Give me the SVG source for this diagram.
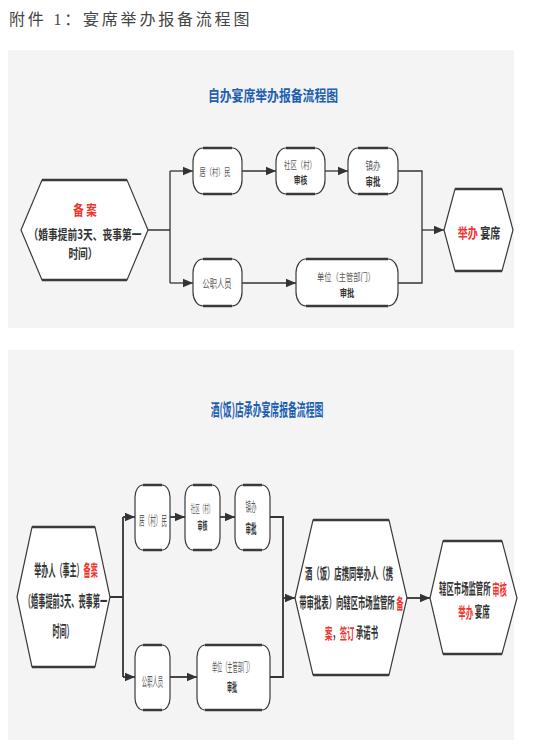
<svg xmlns="http://www.w3.org/2000/svg" width="535" height="753" viewBox="0 0 535 753">
<defs>
<style>
.panel{fill:#f4f4f4}
.shape{fill:#fff;stroke:#3a3a3a;stroke-width:1.2}
.edge{stroke:#3a3a3a;stroke-width:2.6;fill:none}
.conn{fill:none;stroke:#333;stroke-width:1.3}
.conn2{fill:none;stroke:#333;stroke-width:1.8}
.t{font-family:"Noto Sans CJK SC","Noto Sans",sans-serif;text-anchor:middle;dominant-baseline:central}
.n{fill:#5a5a5a;font-weight:400}
.b{fill:#333;font-weight:700}
.r{fill:#f0352f;font-weight:700}
.title{fill:#1d5fb0;font-weight:700}
</style>
<marker id="ah" markerUnits="userSpaceOnUse" markerWidth="10" markerHeight="10" viewBox="0 0 10 10" refX="10" refY="5" orient="auto">
<path d="M0,0.8 L10,5 L0,9.2 Z" fill="#333"/>
</marker>
</defs>
<rect width="535" height="753" fill="#fff"/>
<text x="9" y="25" font-family="'Liberation Serif','Noto Sans CJK SC',serif" font-size="16" fill="#444" letter-spacing="2.8">附件 1：宴席举办报备流程图</text>

<rect class="panel" x="8" y="50" width="506" height="278"/>
<rect class="panel" x="8" y="350" width="506" height="390"/>

<text class="t title" font-size="15" transform="translate(273 94) scale(0.79 1)">自办宴席举办报备流程图</text>
<text class="t title" font-size="17" transform="translate(267 408) scale(0.52 1)">酒(饭)店承办宴席报备流程图</text>

<g id="connectors">
<path class="conn" d="M148,230 H170 M170,171 V283"/>
<path class="conn" d="M170,171 H193" marker-end="url(#ah)"/>
<path class="conn" d="M170,283 H193" marker-end="url(#ah)"/>
<path class="conn" d="M242,171 H276" marker-end="url(#ah)"/>
<path class="conn" d="M325,171 H348" marker-end="url(#ah)"/>
<path class="conn" d="M242,283 H296" marker-end="url(#ah)"/>
<path class="conn" d="M398,171 H422 V283 H398"/>
<path class="conn" d="M422,230 H444" marker-end="url(#ah)"/>

<path class="conn2" d="M110,597 H123 M123,517 V677"/>
<path class="conn2" d="M123,517 H135" marker-end="url(#ah)"/>
<path class="conn2" d="M123,677 H135" marker-end="url(#ah)"/>
<path class="conn2" d="M170,517 H185" marker-end="url(#ah)"/>
<path class="conn2" d="M220,517 H235" marker-end="url(#ah)"/>
<path class="conn2" d="M170,677 H197" marker-end="url(#ah)"/>
<path class="conn2" d="M270,517 H283 V677 H270"/>
<path class="conn2" d="M283,598 H295" marker-end="url(#ah)"/>
<path class="conn2" d="M407,598 H430" marker-end="url(#ah)"/>
</g>

<!-- Panel 1 nodes -->
<g id="p1-start">
<polygon class="shape" points="21,230 42,180 127,180 148,230 127,280 42,280"/>
<path class="edge" d="M42,180 H127 M42,280 H127"/>
<text class="t r" font-size="14" transform="translate(85 209) scale(0.75 1)">备 案</text>
<text class="t b" font-size="13" transform="translate(85 233) scale(0.75 1)">（婚事提前3天、丧事第一</text>
<text class="t b" font-size="13" transform="translate(83 252) scale(0.75 1)">时间）</text>
</g>
<g id="p1-resident">
<rect class="shape" x="193" y="148" width="49" height="46" rx="10" ry="14"/>
<path class="edge" d="M203,148 H232 M203,194 H232"/>
<text class="t n" font-size="10" transform="translate(215 171) scale(0.62 1)">居（村）民</text>
</g>
<g id="p1-community">
<rect class="shape" x="276" y="148" width="49" height="46" rx="10" ry="14"/>
<path class="edge" d="M286,148 H315 M286,194 H315"/>
<text class="t n" font-size="10" transform="translate(300 164.5) scale(0.64 1)">社区（村）</text>
<text class="t b" font-size="10" transform="translate(300.5 179.5) scale(0.68 1)">审核</text>
</g>
<g id="p1-town">
<rect class="shape" x="348" y="148" width="50" height="46" rx="10" ry="14"/>
<path class="edge" d="M358,148 H388 M358,194 H388"/>
<text class="t n" font-size="11" transform="translate(373 165) scale(0.68 1)">镇办</text>
<text class="t b" font-size="11" transform="translate(373 181) scale(0.68 1)">审批</text>
</g>
<g id="p1-official">
<rect class="shape" x="193" y="259" width="49" height="47" rx="10" ry="14"/>
<path class="edge" d="M203,259 H232 M203,306 H232"/>
<text class="t n" font-size="11" transform="translate(217 283) scale(0.66 1)">公职人员</text>
</g>
<g id="p1-unit">
<rect class="shape" x="296" y="259" width="102" height="47" rx="10" ry="14"/>
<path class="edge" d="M306,259 H388 M306,306 H388"/>
<text class="t n" font-size="10.5" transform="translate(346 276.5) scale(0.69 1)">单位（主管部门）</text>
<text class="t b" font-size="10.5" transform="translate(347 292.5) scale(0.7 1)">审批</text>
</g>
<g id="p1-end">
<polygon class="shape" points="444,230 455,189 502,189 513,230 502,271 455,271"/>
<path class="edge" d="M455,189 H502 M455,271 H502"/>
<text class="t b" font-size="14" transform="translate(479 232) scale(0.72 1)"><tspan class="r">举办</tspan> 宴席</text>
</g>

<!-- Panel 2 nodes -->
<g id="p2-start">
<polygon class="shape" points="17,597 32,527 95,527 110,597 95,667 32,667"/>
<path class="edge" d="M32,527 H95 M32,667 H95"/>
<text class="t b" font-size="16" transform="translate(66 570) scale(0.44 1)">举办人（事主）<tspan class="r">备案</tspan></text>
<text class="t b" font-size="16" transform="translate(65.5 601) scale(0.45 1)">（婚事提前3天、丧事第一</text>
<text class="t b" font-size="16" transform="translate(63 631) scale(0.44 1)">时间）</text>
</g>
<g id="p2-resident">
<rect class="shape" x="135" y="485" width="35" height="65" rx="8" ry="12"/>
<path class="edge" d="M143,485 H162 M143,550 H162"/>
<text class="t n" font-size="13" transform="translate(153 519) scale(0.43 1)">居（村）民</text>
</g>
<g id="p2-community">
<rect class="shape" x="185" y="485" width="35" height="65" rx="8" ry="12"/>
<path class="edge" d="M193,485 H212 M193,550 H212"/>
<text class="t n" font-size="11" transform="translate(202 507.5) scale(0.41 1)">社区（村）</text>
<text class="t b" font-size="11" transform="translate(202.5 525) scale(0.45 1)">审核</text>
</g>
<g id="p2-town">
<rect class="shape" x="235" y="485" width="35" height="65" rx="8" ry="12"/>
<path class="edge" d="M243,485 H262 M243,550 H262"/>
<text class="t n" font-size="13" transform="translate(251 505) scale(0.42 1)">镇办</text>
<text class="t b" font-size="13" transform="translate(251 527) scale(0.42 1)">审批</text>
</g>
<g id="p2-official">
<rect class="shape" x="135" y="645" width="35" height="65" rx="8" ry="12"/>
<path class="edge" d="M143,645 H162 M143,710 H162"/>
<text class="t n" font-size="13" transform="translate(152.5 680) scale(0.41 1)">公职人员</text>
</g>
<g id="p2-unit">
<rect class="shape" x="197" y="645" width="73" height="65" rx="8" ry="12"/>
<path class="edge" d="M205,645 H262 M205,710 H262"/>
<text class="t n" font-size="12" transform="translate(232.5 667) scale(0.43 1)">单位（主管部门）</text>
<text class="t b" font-size="12" transform="translate(232 687) scale(0.42 1)">审批</text>
</g>
<g id="p2-hotel">
<polygon class="shape" points="295,598 313,520 389,520 407,598 389,675 313,675"/>
<path class="edge" d="M313,520 H389 M313,675 H389"/>
<text class="t b" font-size="15" transform="translate(349 572) scale(0.49 1)">酒（饭）店携同举办人（携</text>
<text class="t b" font-size="15" transform="translate(351.5 601) scale(0.49 1)">带审批表）向辖区市场监管所 <tspan class="r">备</tspan></text>
<text class="t b" font-size="15" transform="translate(351.5 631) scale(0.49 1)"><tspan class="r">案</tspan>，<tspan class="r">签订</tspan> 承诺书</text>
</g>
<g id="p2-end">
<polygon class="shape" points="430,598 443,541 502,541 517,598 502,654 443,654"/>
<path class="edge" d="M443,541 H502 M443,654 H502"/>
<text class="t b" font-size="15" transform="translate(473 587) scale(0.49 1)">辖区市场监管所 <tspan class="r">审核</tspan></text>
<text class="t b" font-size="15" transform="translate(474 610) scale(0.5 1)"><tspan class="r">举办</tspan> 宴席</text>
</g>
</svg>
